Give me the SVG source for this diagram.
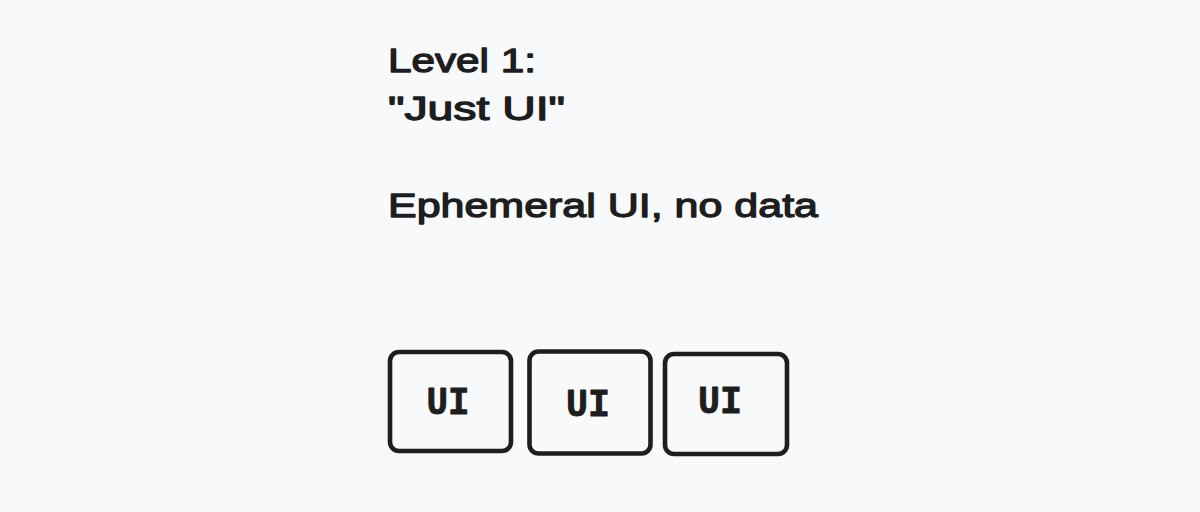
<svg xmlns="http://www.w3.org/2000/svg" width="1200" height="512" viewBox="0 0 1200 512">
  <style>
    .t { font-family: "Liberation Sans", "DejaVu Sans", sans-serif; fill: #1e1e1e; stroke: #1e1e1e; stroke-width: 1.3; stroke-linejoin: round; }
    .box { fill: none; stroke: #1e1e1e; stroke-width: 4.6; stroke-linejoin: round; }
    .lbl { font-family: "Liberation Mono", "DejaVu Sans Mono", monospace; font-weight: bold; font-size: 38px; text-anchor: middle; stroke-width: 0.8; }
  </style>
  <rect width="1200" height="512" fill="#f8f9fb"/>
  <g id="title">
    <text class="t" x="388" y="72" font-size="34" textLength="148" lengthAdjust="spacingAndGlyphs">Level 1:</text>
    <text class="t" x="388" y="120" font-size="34" textLength="177" lengthAdjust="spacingAndGlyphs">"Just UI"</text>
    <text class="t" x="388" y="217" font-size="34" textLength="430" lengthAdjust="spacingAndGlyphs">Ephemeral UI, no data</text>
  </g>
  <g id="ui1">
    <rect class="box" x="390" y="352" width="121" height="99" rx="9"/>
    <text class="t lbl" x="448" y="414" textLength="43" lengthAdjust="spacingAndGlyphs">UI</text>
  </g>
  <g id="ui2">
    <rect class="box" x="529.5" y="351.5" width="121" height="102" rx="9"/>
    <text class="t lbl" x="588" y="416" textLength="44" lengthAdjust="spacingAndGlyphs">UI</text>
  </g>
  <g id="ui3">
    <rect class="box" x="665" y="354" width="122" height="100" rx="9"/>
    <text class="t lbl" x="720" y="413" textLength="44" lengthAdjust="spacingAndGlyphs">UI</text>
  </g>
  <g id="connectors"/>
</svg>
